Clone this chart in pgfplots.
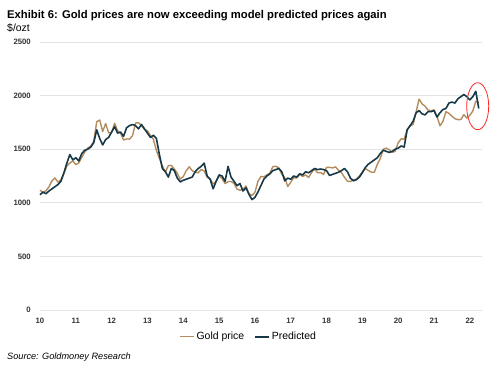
\documentclass[border=0pt]{standalone}
\usepackage{pgfplots}
\usepackage{pgfplotstable}
\pgfplotsset{compat=1.18}
\usepackage{fontspec}
\setmainfont{Liberation Sans}
\definecolor{goldc}{HTML}{B38B5D}
\definecolor{predc}{HTML}{173847}
\definecolor{gridc}{HTML}{E3E3E3}
\pgfplotstableread{
m gold pred
0 1118 1075
1 1095 1100
2 1113 1085
3 1148 1110
4 1205 1130
5 1232 1150
6 1193 1170
7 1215 1200
8 1271 1280
9 1343 1370
10 1370 1450
11 1391 1400
12 1356 1420
13 1372 1390
14 1424 1460
15 1474 1490
16 1510 1500
17 1528 1520
18 1572 1560
19 1756 1680
20 1772 1600
21 1665 1540
22 1739 1590
23 1652 1610
24 1656 1660
25 1742 1710
26 1673 1650
27 1650 1660
28 1585 1620
29 1596 1700
30 1594 1720
31 1626 1730
32 1744 1720
33 1747 1690
34 1721 1730
35 1684 1690
36 1671 1650
37 1627 1610
38 1593 1630
39 1487 1600
40 1414 1450
41 1343 1320
42 1286 1290
43 1347 1240
44 1349 1320
45 1316 1300
46 1275 1230
47 1221 1195
48 1244 1210
49 1300 1220
50 1336 1230
51 1299 1240
52 1287 1290
53 1279 1320
54 1311 1340
55 1296 1370
56 1239 1250
57 1222 1220
58 1176 1130
59 1200 1200
60 1250 1260
61 1227 1250
62 1179 1200
63 1198 1340
64 1199 1240
65 1181 1200
66 1128 1160
67 1117 1180
68 1125 1110
69 1157 1140
70 1086 1080
71 1068 1030
72 1097 1050
73 1199 1100
74 1246 1160
75 1242 1220
76 1260 1250
77 1276 1270
78 1337 1300
79 1341 1310
80 1326 1320
81 1266 1290
82 1236 1205
83 1152 1230
84 1192 1220
85 1234 1250
86 1231 1240
87 1266 1270
88 1246 1260
89 1260 1290
90 1236 1280
91 1283 1300
92 1314 1320
93 1280 1310
94 1282 1315
95 1265 1310
96 1331 1300
97 1331 1255
98 1325 1265
99 1335 1275
100 1304 1285
101 1281 1300
102 1238 1320
103 1202 1290
104 1198 1230
105 1215 1205
106 1221 1215
107 1250 1240
108 1291 1280
109 1320 1330
110 1301 1360
111 1286 1380
112 1284 1400
113 1359 1420
114 1413 1460
115 1500 1490
116 1510 1480
117 1495 1470
118 1471 1480
119 1480 1500
120 1560 1510
121 1597 1530
122 1592 1520
123 1683 1680
124 1716 1720
125 1732 1760
126 1847 1840
127 1968 1860
128 1922 1830
129 1901 1820
130 1866 1850
131 1858 1850
132 1867 1860
133 1808 1800
134 1718 1840
135 1760 1870
136 1850 1880
137 1834 1930
138 1807 1940
139 1785 1930
140 1775 1970
141 1777 1990
142 1822 2010
143 1790 1990
144 1817 1960
145 1856 1990
146 1948 2040
147 1937 1880
}\datatable
\begin{document}
\begin{tikzpicture}
\useasboundingbox (0,0) rectangle (500bp,372bp);
\node[anchor=base west, inner sep=0pt, font=\fontsize{11.3}{13}\selectfont\bfseries] at (7bp,353bp) {Exhibit 6: Gold prices are now exceeding model predicted prices again};
\node[anchor=base west, inner sep=0pt, font=\fontsize{10.5}{12}\selectfont] at (7bp,340.5bp) {\$/ozt};
\node[anchor=base west, inner sep=0pt, font=\fontsize{9.2}{11}\selectfont\itshape] at (7bp,12.5bp) {Source: Goldmoney Research};
\begin{axis}[
  at={(40bp,62bp)}, anchor=south west,
  scale only axis, width=442bp, height=268bp,
  xmin=10, xmax=22.34, ymin=0, ymax=2500,
  xtick={10,...,22}, ytick={0,500,...,2500},
  axis line style={draw=none},
  major tick length=0pt,
  ymajorgrids, grid style={gridc, line width=0.8pt},
  /pgf/number format/assume math mode=true,
  /pgf/number format/1000 sep={},
  tick label style={font=\fontsize{7.8}{9}\selectfont\bfseries, text=black!80},
  yticklabel style={inner sep=0pt, anchor=east, xshift=-9bp},
  xticklabel style={inner sep=0pt, anchor=north, yshift=-8bp},
  clip=false,
  legend columns=2,
  legend style={draw=none, fill=none, at={(0.472,-0.1)}, anchor=center,
    font=\fontsize{10.5}{12}\selectfont, inner sep=0pt,
    /tikz/every even column/.append style={column sep=8bp}},
  legend image code/.code={\draw[#1] (0bp,0bp) -- (14bp,0bp);},
]
\addplot[goldc, line width=1.4pt, line join=round] table[x expr=10+\thisrow{m}/12, y=gold] {\datatable};
\addlegendentry{Gold price}
\addplot[predc, line width=1.6pt, line join=round] table[x expr=10+\thisrow{m}/12, y=pred] {\datatable};
\addlegendentry{Predicted}
\draw[red!85!white, line width=0.8pt] (axis cs:22.22,1901) ellipse [x radius=11bp, y radius=23.5bp];
\end{axis}
\end{tikzpicture}
\end{document}
